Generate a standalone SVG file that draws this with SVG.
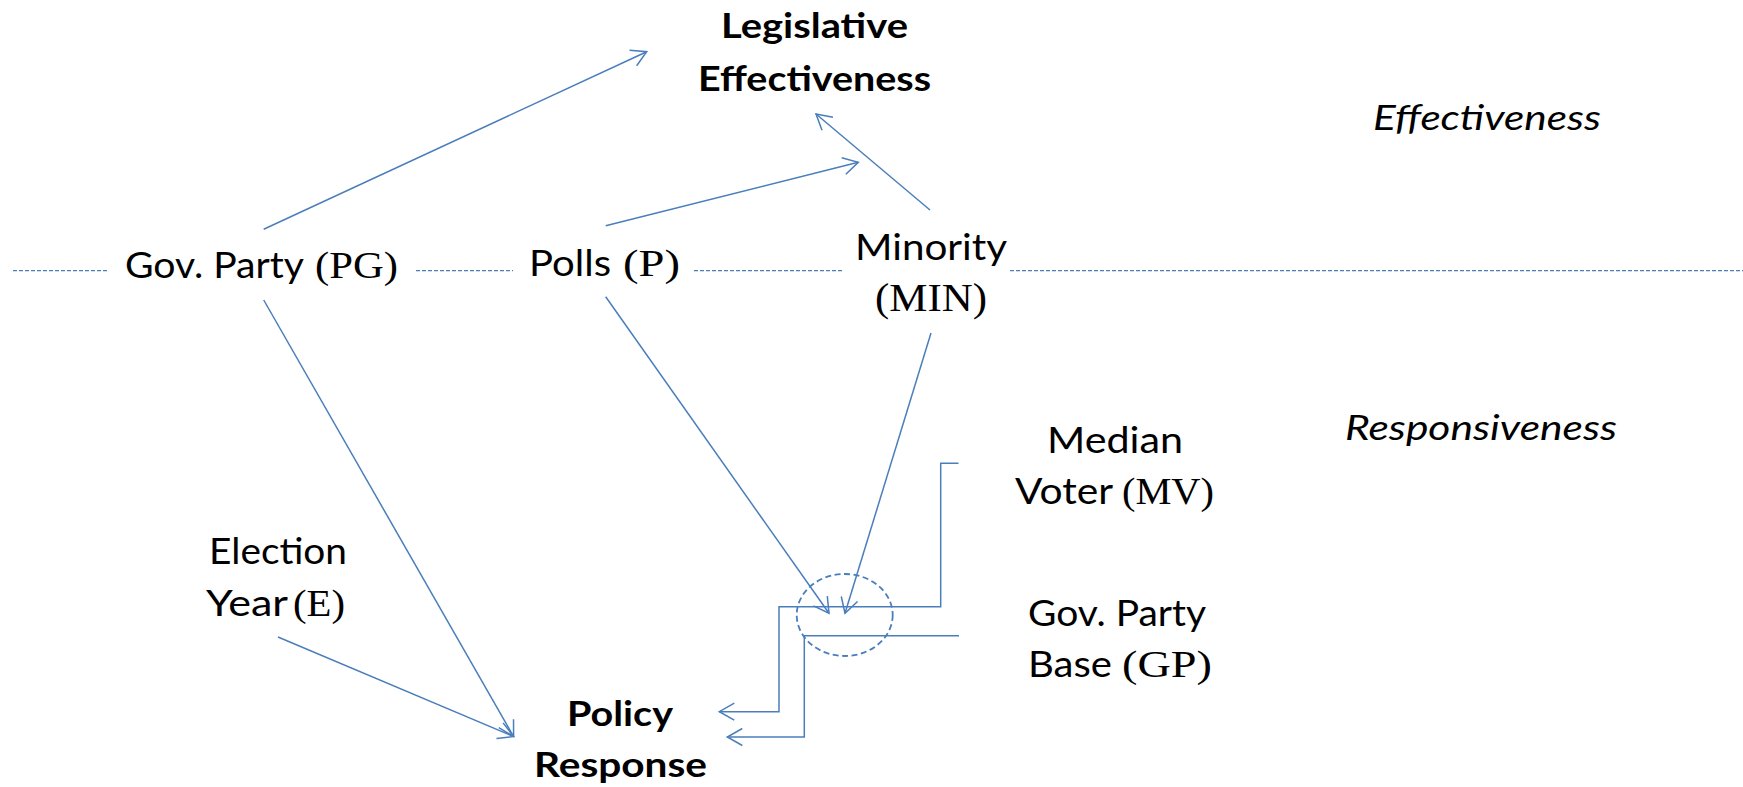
<svg xmlns="http://www.w3.org/2000/svg" width="1743" height="787" viewBox="0 0 1743 787">
<style>
.s{font-family:Lato,"Liberation Sans",sans-serif;font-size:36px;fill:#000}
.b{font-family:Lato,"Liberation Sans",sans-serif;font-size:35px;font-weight:bold;fill:#000}
.i{font-family:Lato,"Liberation Sans",sans-serif;font-size:34px;font-style:italic;fill:#000}
.m{font-family:"Liberation Serif",serif;font-size:38px;fill:#000}
.c{fill:none;stroke:#4A7EBB;stroke-width:1.5}
.a{marker-end:url(#arr)}
.d{fill:none;stroke:#4A7EBB;stroke-width:1.3;stroke-dasharray:4 2}
.e{fill:none;stroke:#4A7EBB;stroke-width:1.8;stroke-dasharray:6 3.5}
</style>
<defs>
<marker id="arr" markerUnits="userSpaceOnUse" markerWidth="20" markerHeight="20" viewBox="-17 -10 19 20" refX="0" refY="0" orient="auto">
<path d="M -15 -8.5 L 0 0 L -15 8.5" fill="none" stroke="#4A7EBB" stroke-width="1.5"/>
</marker>
</defs>
<rect width="1743" height="787" fill="#fff"/>
<g id="divider">
<line class="d" x1="13" y1="270.7" x2="108" y2="270.7"/>
<line class="d" x1="416" y1="270.7" x2="513" y2="270.7"/>
<line class="d" x1="694" y1="270.7" x2="842" y2="270.7"/>
<line class="d" x1="1010" y1="270.7" x2="1743" y2="270.7"/>
</g>
<g id="connectors">
<line class="c a" x1="263.7" y1="229.3" x2="646.7" y2="51.7"/>
<line class="c a" x1="605.7" y1="225.7" x2="858.3" y2="162.3"/>
<line class="c a" x1="930" y1="210" x2="816" y2="114"/>
<line class="c a" x1="263.7" y1="300" x2="513.6" y2="736.5"/>
<line class="c a" x1="278" y1="637" x2="513.6" y2="736.5"/>
<line class="c a" x1="605.7" y1="296.7" x2="829" y2="613.3"/>
<line class="c a" x1="931" y1="333" x2="845" y2="613.3"/>
<path class="c a" d="M 958.5 463.3 H 940.7 V 606.7 H 779 V 711.7 H 719.3"/>
<path class="c a" d="M 959 635.7 H 804.3 V 737 H 727.3"/>
<ellipse class="e" cx="844.7" cy="615" rx="48" ry="41"/>
</g>
<g id="n-legislative">
<text class="b" x="721" y="38" textLength="187" lengthAdjust="spacingAndGlyphs">Legislative</text>
<text class="b" x="698" y="90.5" textLength="233" lengthAdjust="spacingAndGlyphs">Effectiveness</text>
</g>
<g id="n-govparty">
<text y="278"><tspan class="s" x="125" textLength="179" lengthAdjust="spacingAndGlyphs">Gov. Party</tspan> <tspan class="m" x="315" textLength="83" lengthAdjust="spacingAndGlyphs">(PG)</tspan></text>
</g>
<g id="n-polls">
<text y="276"><tspan class="s" x="529" textLength="82" lengthAdjust="spacingAndGlyphs">Polls</tspan> <tspan class="m" x="623" textLength="57" lengthAdjust="spacingAndGlyphs">(P)</tspan></text>
</g>
<g id="n-minority">
<text class="s" x="855" y="260" textLength="152" lengthAdjust="spacingAndGlyphs">Minority</text>
<text class="m" x="875" y="311" style="font-size:40px" textLength="112" lengthAdjust="spacingAndGlyphs">(MIN)</text>
</g>
<g id="n-median">
<text class="s" x="1047" y="452.5" textLength="136" lengthAdjust="spacingAndGlyphs">Median</text>
<text y="504"><tspan class="s" x="1015" textLength="98" lengthAdjust="spacingAndGlyphs">Voter</tspan> <tspan class="m" x="1122" textLength="92" lengthAdjust="spacingAndGlyphs">(MV)</tspan></text>
</g>
<g id="n-govbase">
<text class="s" x="1028" y="626" textLength="178" lengthAdjust="spacingAndGlyphs">Gov. Party</text>
<text y="677"><tspan class="s" x="1028" textLength="84" lengthAdjust="spacingAndGlyphs">Base</tspan> <tspan class="m" x="1122" textLength="90" lengthAdjust="spacingAndGlyphs">(GP)</tspan></text>
</g>
<g id="n-election">
<text class="s" x="209" y="564" textLength="138" lengthAdjust="spacingAndGlyphs">Election</text>
<text y="616"><tspan class="s" x="206" textLength="82" lengthAdjust="spacingAndGlyphs">Year</tspan> <tspan class="m" x="293" textLength="52" lengthAdjust="spacingAndGlyphs">(E)</tspan></text>
</g>
<g id="n-policy">
<text class="b" x="567" y="726" textLength="106" lengthAdjust="spacingAndGlyphs">Policy</text>
<text class="b" x="534" y="777" textLength="173" lengthAdjust="spacingAndGlyphs">Response</text>
</g>
<g id="label-effectiveness">
<text class="i" x="1373" y="129.5" textLength="228" lengthAdjust="spacingAndGlyphs">Effectiveness</text>
</g>
<g id="label-responsiveness">
<text class="i" x="1345" y="439.5" textLength="272" lengthAdjust="spacingAndGlyphs">Responsiveness</text>
</g>
</svg>
